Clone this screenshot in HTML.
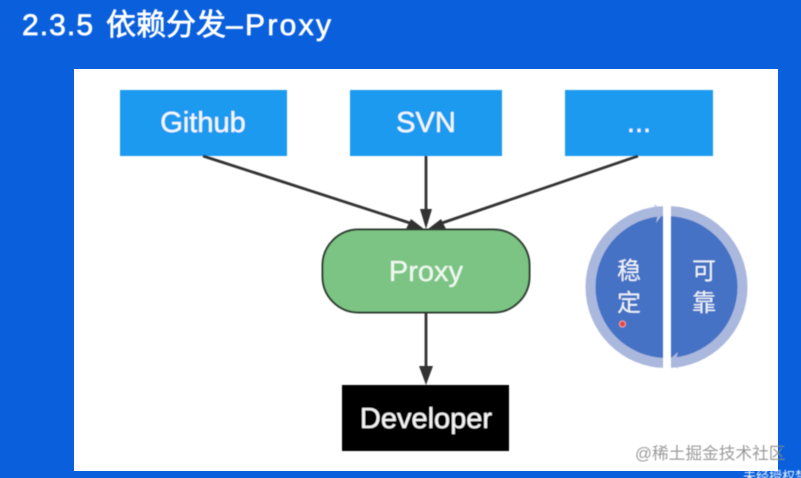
<!DOCTYPE html>
<html>
<head>
<meta charset="utf-8">
<style>
html,body{margin:0;padding:0;background:#0a5fdc}
body{width:801px;height:478px;overflow:hidden;position:relative}
svg{position:absolute;left:0;top:0;display:block}
text{font-family:"Liberation Sans","Noto Sans CJK SC",sans-serif}
</style>
</head>
<body>
<svg width="801" height="478" viewBox="0 0 801 478" xmlns="http://www.w3.org/2000/svg">
<defs>
<clipPath id="l"><rect x="560" y="190" width="103" height="190"/></clipPath>
<clipPath id="r"><rect x="671" y="190" width="100" height="190"/></clipPath>
<filter id="b" x="-5%" y="-5%" width="110%" height="110%"><feGaussianBlur stdDeviation="0.5"/></filter>
</defs>
<rect width="801" height="478" fill="#0a5fdc"/>
<rect x="74" y="69" width="704" height="402" fill="#ffffff"/>
<g filter="url(#b)">
<g fill="#ffffff" stroke="#ffffff" stroke-width="0.7">
<text x="22" y="35" font-size="30" textLength="71" lengthAdjust="spacing">2.3.5</text>
<text x="106" y="35" font-size="30">依赖分发</text>
<text x="226" y="35" font-size="30" textLength="105" lengthAdjust="spacing">–Proxy</text>
</g>

<rect x="120" y="90" width="167" height="66" fill="#1b9af0"/>
<rect x="350" y="90" width="152" height="66" fill="#1b9af0"/>
<rect x="565" y="90" width="148" height="66" fill="#1b9af0"/>
<g stroke-width="0.3">
<text x="203" y="132" font-size="29" fill="#f2f8ff" stroke="#f2f8ff" text-anchor="middle">Github</text>
<text x="426" y="132" font-size="29" fill="#f2f8ff" stroke="#f2f8ff" text-anchor="middle">SVN</text>
<text x="639" y="132" font-size="29" fill="#f2f8ff" stroke="#f2f8ff" text-anchor="middle">...</text>
</g>

<line x1="203" y1="156" x2="410" y2="223" stroke="#333" stroke-width="2.8"/>
<line x1="426" y1="156" x2="426" y2="216" stroke="#333" stroke-width="2.8"/>
<line x1="638" y1="156" x2="442" y2="223" stroke="#333" stroke-width="2.8"/>
<line x1="426" y1="312" x2="426" y2="372" stroke="#333" stroke-width="2.8"/>
<polygon points="424,229 406,229 411,219" fill="#333"/>
<polygon points="426,229 420,209 432,209" fill="#333"/>
<polygon points="428,229 446,229 441,219" fill="#333"/>
<polygon points="426,385 419,366 433,366" fill="#333"/>

<rect x="322.500" y="229.500" width="207" height="83" rx="36" ry="36" fill="#7cc484" stroke="#2f3b33" stroke-width="2"/>
<text x="426" y="281" font-size="29" fill="#eef8ee" stroke="#eef8ee" stroke-width="0.3" text-anchor="middle">Proxy</text>

<rect x="342" y="385" width="167" height="66" fill="#000000"/>
<text x="426" y="428" font-size="29" fill="#f4f4f4" stroke="#f4f4f4" stroke-width="0.3" text-anchor="middle">Developer</text>

<g clip-path="url(#l)">
<circle cx="666.500" cy="287" r="81" fill="#aab8de"/>
<circle cx="666.500" cy="287" r="71" fill="#4472c4"/>
</g>
<g clip-path="url(#r)">
<circle cx="666.500" cy="287" r="81" fill="#aab8de"/>
<circle cx="666.500" cy="287" r="71" fill="#4472c4"/>
</g>
<polygon points="654,204 663,211 663,214 656,223 658,212" fill="#aab8de"/>
<polygon points="678,369 671,361 671,358 678,352 676,360" fill="#aab8de"/>
<text x="629" y="279" font-size="24" fill="#f0f4fb" text-anchor="middle">稳</text>
<text x="629" y="311" font-size="24" fill="#f0f4fb" text-anchor="middle">定</text>
<text x="704" y="279" font-size="24" fill="#f0f4fb" text-anchor="middle">可</text>
<text x="704" y="311" font-size="24" fill="#f0f4fb" text-anchor="middle">靠</text>
<circle cx="622.500" cy="324" r="3" fill="#e8413f" stroke="#f3a0a0" stroke-width="1"/>

<text x="635" y="459" font-size="16.700" fill="#8a8a8a" opacity="0.85">@稀土掘金技术社区</text>
<text x="743" y="481" font-size="13" fill="#e8f0ff">未经授权禁</text>
</g>
</svg>
</body>
</html>
